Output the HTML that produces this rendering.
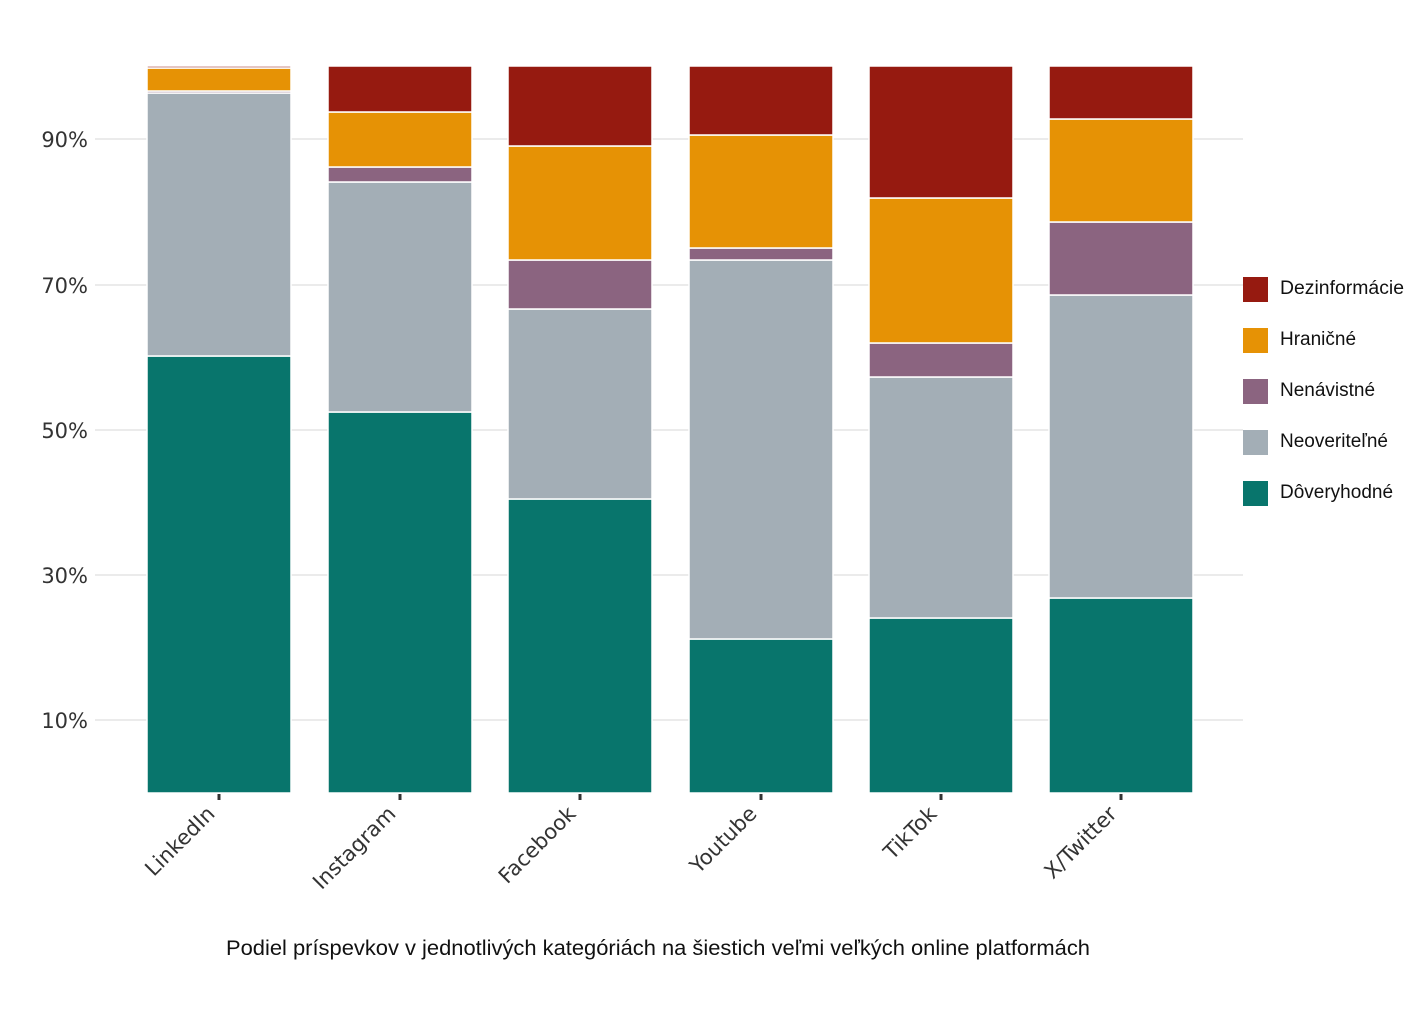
<!DOCTYPE html>
<html><head><meta charset="utf-8"><style>
body{margin:0;background:#fff;}
svg{display:block;font-family:"DejaVu Sans","Liberation Sans",sans-serif;}
</style></head><body>
<svg width="1425" height="1013" viewBox="0 0 1425 1013">
<g stroke="#ebebeb" stroke-width="2">
<line x1="95" x2="1243" y1="139" y2="139"/>
<line x1="95" x2="1243" y1="285" y2="285"/>
<line x1="95" x2="1243" y1="430" y2="430"/>
<line x1="95" x2="1243" y1="575" y2="575"/>
<line x1="95" x2="1243" y1="720" y2="720"/>
</g>
<g font-size="21" fill="#333" text-anchor="end">
<text x="88" y="147">90%</text>
<text x="88" y="293">70%</text>
<text x="88" y="438">50%</text>
<text x="88" y="583">30%</text>
<text x="88" y="728">10%</text>
</g>
<g stroke="#fff" stroke-width="1.5">
<rect x="147" y="356" width="144" height="437" fill="#08756c"/>
<rect x="147" y="93" width="144" height="263" fill="#a3aeb6"/>
<rect x="147" y="91" width="144" height="2" fill="#8b6480"/>
<rect x="147" y="68" width="144" height="23" fill="#e69205"/>
<rect x="147" y="66" width="144" height="2" fill="#961a10"/>
<rect x="328" y="412" width="144" height="381" fill="#08756c"/>
<rect x="328" y="182" width="144" height="230" fill="#a3aeb6"/>
<rect x="328" y="167" width="144" height="15" fill="#8b6480"/>
<rect x="328" y="112" width="144" height="55" fill="#e69205"/>
<rect x="328" y="66" width="144" height="46" fill="#961a10"/>
<rect x="508" y="499" width="144" height="294" fill="#08756c"/>
<rect x="508" y="309" width="144" height="190" fill="#a3aeb6"/>
<rect x="508" y="260" width="144" height="49" fill="#8b6480"/>
<rect x="508" y="146" width="144" height="114" fill="#e69205"/>
<rect x="508" y="66" width="144" height="80" fill="#961a10"/>
<rect x="689" y="639" width="144" height="154" fill="#08756c"/>
<rect x="689" y="260" width="144" height="379" fill="#a3aeb6"/>
<rect x="689" y="248" width="144" height="12" fill="#8b6480"/>
<rect x="689" y="135" width="144" height="113" fill="#e69205"/>
<rect x="689" y="66" width="144" height="69" fill="#961a10"/>
<rect x="869" y="618" width="144" height="175" fill="#08756c"/>
<rect x="869" y="377" width="144" height="241" fill="#a3aeb6"/>
<rect x="869" y="343" width="144" height="34" fill="#8b6480"/>
<rect x="869" y="198" width="144" height="145" fill="#e69205"/>
<rect x="869" y="66" width="144" height="132" fill="#961a10"/>
<rect x="1049" y="598" width="144" height="195" fill="#08756c"/>
<rect x="1049" y="295" width="144" height="303" fill="#a3aeb6"/>
<rect x="1049" y="222" width="144" height="73" fill="#8b6480"/>
<rect x="1049" y="119" width="144" height="103" fill="#e69205"/>
<rect x="1049" y="66" width="144" height="53" fill="#961a10"/>
</g>
<g stroke="#333" stroke-width="3">
<line x1="219" x2="219" y1="794" y2="800"/>
<line x1="400" x2="400" y1="794" y2="800"/>
<line x1="580" x2="580" y1="794" y2="800"/>
<line x1="761" x2="761" y1="794" y2="800"/>
<line x1="941" x2="941" y1="794" y2="800"/>
<line x1="1121" x2="1121" y1="794" y2="800"/>
</g>
<g font-size="21" fill="#333" text-anchor="end">
<text transform="translate(216,815) rotate(-45)">LinkedIn</text>
<text transform="translate(397,815) rotate(-45)">Instagram</text>
<text transform="translate(577,815) rotate(-45)">Facebook</text>
<text transform="translate(758,815) rotate(-45)">Youtube</text>
<text transform="translate(938,815) rotate(-45)">TikTok</text>
<text transform="translate(1118,815) rotate(-45)">X/Twitter</text>
</g>
<g font-family="Liberation Sans, sans-serif" font-size="19" fill="#111">
<rect x="1243" y="277" width="25" height="25" fill="#961a10"/><text x="1280" y="294" textLength="124" lengthAdjust="spacingAndGlyphs">Dezinformácie</text>
<rect x="1243" y="328" width="25" height="25" fill="#e69205"/><text x="1280" y="345">Hraničné</text>
<rect x="1243" y="379" width="25" height="25" fill="#8b6480"/><text x="1280" y="396">Nenávistné</text>
<rect x="1243" y="430" width="25" height="25" fill="#a3aeb6"/><text x="1280" y="447">Neoveriteľné</text>
<rect x="1243" y="481" width="25" height="25" fill="#08756c"/><text x="1280" y="498">Dôveryhodné</text>
</g>
<text x="226" y="955" font-family="Liberation Sans, sans-serif" font-size="21" fill="#111" textLength="864" lengthAdjust="spacingAndGlyphs">Podiel príspevkov v jednotlivých kategóriách na šiestich veľmi veľkých online platformách</text>
</svg>
</body></html>
